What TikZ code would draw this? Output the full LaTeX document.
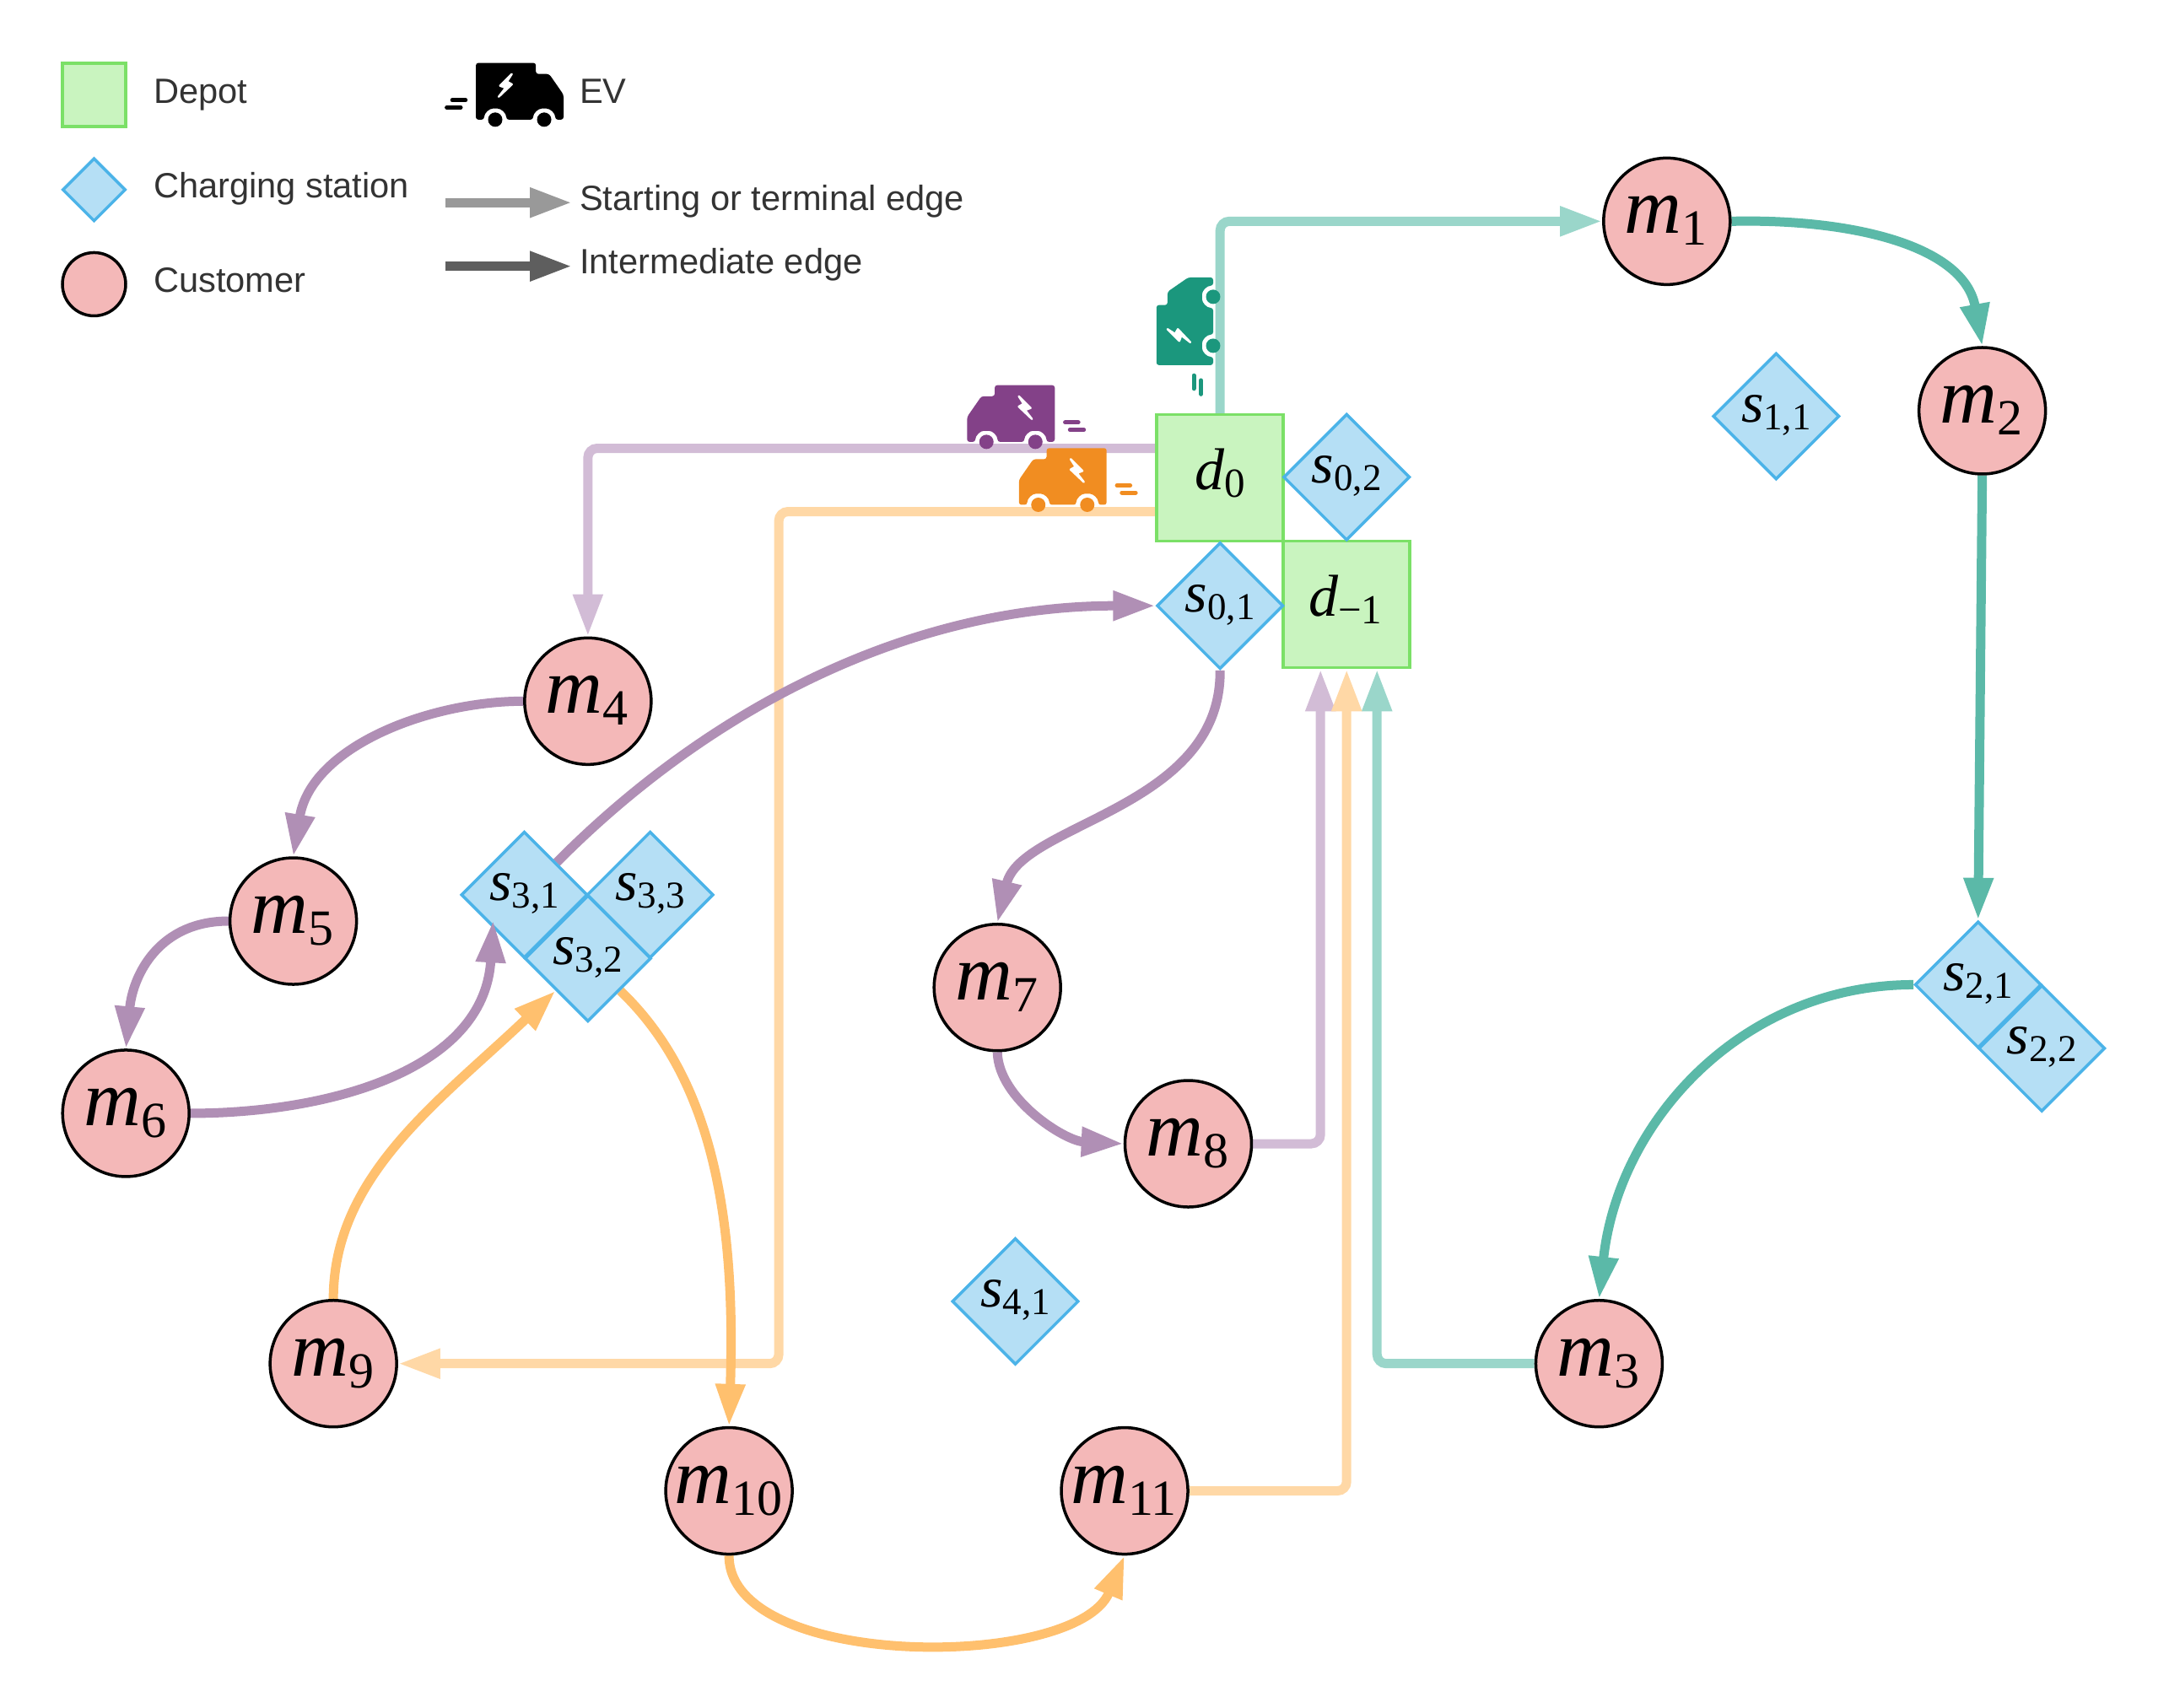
\documentclass[tikz,border=0pt]{standalone}
\usepackage{fontspec}
\setmainfont{Liberation Sans}
\newfontfamily\mathserif{Liberation Serif}
\usetikzlibrary{shapes.geometric,arrows.meta,backgrounds}
\definecolor{depotfill}{HTML}{C9F4BF}
\definecolor{depotline}{HTML}{7BE067}
\definecolor{csfill}{HTML}{B5DFF5}
\definecolor{csline}{HTML}{4BB3E8}
\definecolor{cufill}{HTML}{F4B8B8}
\definecolor{greenD}{HTML}{5BB9A8}
\definecolor{greenL}{HTML}{9AD6CA}
\definecolor{purpD}{HTML}{B08FB5}
\definecolor{purpL}{HTML}{D2BCD6}
\definecolor{oranD}{HTML}{FFC06E}
\definecolor{oranL}{HTML}{FFD8A6}
\definecolor{truckG}{HTML}{1B977D}
\definecolor{truckP}{HTML}{834188}
\definecolor{truckO}{HTML}{F18D21}
% letter, subscript, baseline shift, letter size, subscript size, subscript drop
\newcommand{\nodelbl}[6]{\makebox[0pt][c]{\smash{\raisebox{#3pt}{\mathserif\fontsize{#4}{#4}\selectfont\textit{#1}\raisebox{-#6pt}{\fontsize{#5}{#5}\selectfont #2}}}}}
\newcommand{\mlbl}[1]{\hspace*{-2pt}\nodelbl{m}{#1}{-14.5}{94}{60}{14}}
\newcommand{\slbl}[1]{\nodelbl{s}{#1}{-7}{68}{45}{9}}
\newcommand{\dlbl}[1]{\nodelbl{d}{#1}{-14}{70}{49}{9}}
\newcommand{\evtruck}[1]{%
  \fill[#1,rounded corners=3pt] (0,5) -- (0,46) -- (43.4,46) -- (43.4,38) -- (53,38) -- (63.4,23) -- (63.4,5) -- (57.4,5)
     .. controls (57.4,9.7) and (53.7,13) .. (49.4,13) .. controls (45.1,13) and (41.4,9.7) .. (41.4,5)
     -- (22,5) .. controls (22,9.7) and (18.3,13) .. (14,13) .. controls (9.7,13) and (6,9.7) .. (6,5) -- cycle;
  \fill[#1] (14,5) circle[radius=8.5pt] (49.4,5) circle[radius=8.5pt];
  \filldraw[white,line width=2.5pt,line join=round] (26,38) -- (17.5,29.5) -- (21.5,28) -- (16.5,21.5) -- (26,30.5) -- (22.5,32.5) -- cycle;
  \draw[#1,line width=5pt,line cap=round] (-17,19) -- (-7.5,19) (-21,13.8) -- (-11,13.8);
}
\tikzset{
  depot/.style={rectangle,draw=depotline,fill=depotfill,line width=3.5pt,minimum size=#1,inner sep=0pt},
  depot/.default=150pt,
  station/.style={diamond,draw=csline,fill=csfill,line width=3.5pt,minimum size=#1,inner sep=0pt},
  station/.default=150pt,
  customer/.style={circle,draw=black,fill=cufill,line width=3.5pt,minimum size=#1,inner sep=0pt},
  customer/.default=150pt,
  legtext/.style={anchor=base west,inner sep=0pt,text=black!80,font=\fontsize{41.6}{41.6}\selectfont},
  head/.style={-{Triangle[length=50pt,width=33pt]}},
  dk/.style={line width=11pt,draw=#1},
  lt/.style={line width=11pt,draw=#1,rounded corners=11pt},
}
\begin{document}
\begin{tikzpicture}[x=1.6397pt,y=-1.6397pt]
\useasboundingbox (0,0) rectangle (1568,1235);
% legend
\node[depot=75pt] (legD) at (68,68.6) {};
\node[station=75pt] (legS) at (68,137.2) {};
\node[customer=75pt] (legC) at (68,205.5) {};
\node[legtext] (t1) at (111,74.6) {Depot};
\node[legtext] (t2) at (111,142.8) {Charging station};
\node[legtext] (t3) at (111,211.6) {Customer};
\node[legtext] (t4) at (419,74.6) {EV};
\node[legtext] (t5) at (419,152.1) {Starting or terminal edge};
\node[legtext] (t6) at (419,197.8) {Intermediate edge};
\coordinate (a1) at (322,146.5); \coordinate (a2) at (413.5,146.5);
\coordinate (b1) at (322,192.5); \coordinate (b2) at (413.5,192.5);
\draw[head,line width=11pt,draw=black!40,fill=black!40] (a1) -- (a2);
\draw[head,line width=11pt,draw=black!63,fill=black!63] (b1) -- (b2);
% nodes
\node[depot] (d0) at (882,345.5) {\dlbl{0}};
\node[depot] (dm) at (973.5,437) {\hspace*{-3pt}\dlbl{−1}};
\node[station] (s01) at (882,438) {\slbl{0,1}};
\node[station] (s02) at (973.5,345) {\slbl{0,2}};
\node[station] (s11) at (1284,301) {\slbl{1,1}};
\node[station] (s21) at (1430,712) {\slbl{2,1}};
\node[station] (s22) at (1476,758) {\slbl{2,2}};
\node[station] (s31) at (379,647) {\slbl{3,1}};
\node[station] (s33) at (470,647) {\slbl{3,3}};
\node[station] (s32) at (425,693) {\slbl{3,2}};
\node[station] (s41) at (734,941) {\slbl{4,1}};
\node[customer] (m1) at (1205,160) {\mlbl{1}};
\node[customer] (m2) at (1433,297) {\mlbl{2}};
\node[customer] (m3) at (1156,986) {\mlbl{3}};
\node[customer] (m4) at (425,507) {\mlbl{4}};
\node[customer] (m5) at (212,666) {\mlbl{5}};
\node[customer] (m6) at (91,805) {\mlbl{6}};
\node[customer] (m7) at (721,714) {\mlbl{7}};
\node[customer] (m8) at (859,827) {\mlbl{8}};
\node[customer] (m9) at (241,986) {\mlbl{9}};
\node[customer] (m10) at (527,1078) {\mlbl{10}};
\node[customer] (m11) at (813,1078) {\mlbl{11}};
\coordinate (oc) at (563,986);
% edges
\begin{scope}[on background layer]
\draw[lt=greenL,head] (d0.north) -- (d0.north |- m1.west) -- (m1.west);
\draw[lt=purpL,head] ([yshift=35pt]d0.west) -| (m4.north);
\draw[lt=oranL,head] ([yshift=-40pt]d0.west) -| (oc) -- (m9.east);
\draw[lt=greenL,head] (m3.west) -| ([xshift=36pt]dm.south);
\draw[lt=purpL,head] (m8.east) -| ([xshift=-31pt]dm.south);
\draw[lt=oranL,head] (m11.east) -| (dm.south);
\draw[dk=greenD,head] (m1.east) .. controls (1340,158) and (1420,178) .. (m2.north);
\draw[dk=greenD,head] (m2.south) -- (s21.north);
\draw[dk=greenD,head] (s21.west) .. controls (1260,712) and (1170,810) .. (m3.north);
\draw[dk=purpD,head] (m4.west) .. controls (310,507) and (225,540) .. (m5.north);
\draw[dk=purpD,head] (m5.west) .. controls (115,666) and (96,705) .. (m6.north);
\draw[dk=purpD,head] (s31.north east) .. controls (515,510) and (660,438) .. (s01.west);
\draw[dk=purpD,head] (s01.south) .. controls (883,585) and (738,595) .. (m7.north);
\draw[dk=purpD,head] (m7.south) .. controls (722,795) and (770,825) .. (m8.west);
\draw[dk=oranD,head] (m9.north) .. controls (241,850) and (318,796) .. (s32.south west);
\draw[dk=oranD,head] (s32.south east) .. controls (515,780) and (532,880) .. (m10.north);
\draw[dk=oranD,head] (m10.south) .. controls (527,1208) and (778,1208) .. (m11.south);
\end{scope}
\draw[dk=purpD,head] (m6.east) .. controls (235,805) and (350,775) .. ([xshift=1.5pt,yshift=8pt]s31.south west);
% trucks
\begin{scope}[shift={(344,91.5)},x={(1.6397pt,0pt)},y={(0pt,1.6397pt)}]\evtruck{black}\end{scope}
\begin{scope}[shift={(762.5,324.5)},x={(-1.6397pt,0pt)},y={(0pt,1.6397pt)}]\evtruck{truckP}\end{scope}
\begin{scope}[shift={(800,370)},x={(-1.6397pt,0pt)},y={(0pt,1.6397pt)}]\evtruck{truckO}\end{scope}
\begin{scope}[shift={(882,264)},x={(0pt,1.6397pt)},y={(-1.6397pt,0pt)}]\evtruck{truckG}\end{scope}
\end{tikzpicture}
\end{document}
